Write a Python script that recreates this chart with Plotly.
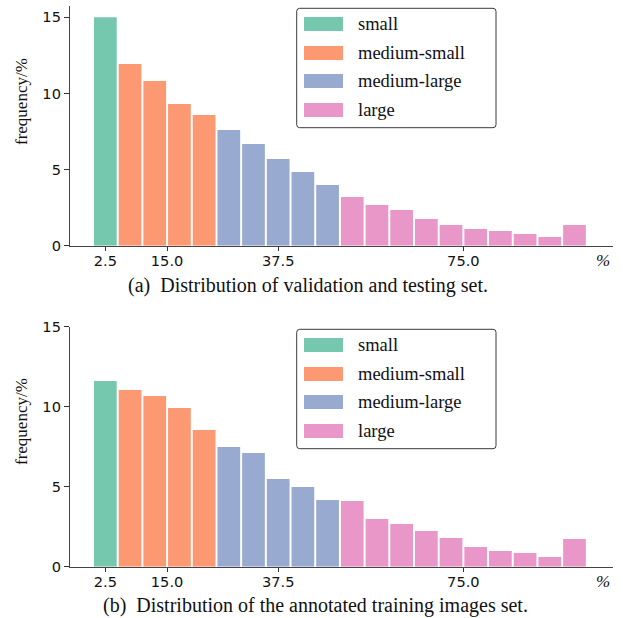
import plotly.graph_objects as go

W, H = 623, 618

# ---------------- data ----------------
bin_centers = [2.5, 7.5, 12.5, 17.5, 22.5, 27.5, 32.5, 37.5, 42.5, 47.5,
               52.5, 57.5, 62.5, 67.5, 72.5, 77.5, 82.5, 87.5, 92.5, 97.5]
freq_val_test = [15.0, 11.93, 10.81, 9.30, 8.58, 7.60, 6.68, 5.70, 4.84, 3.98,
                 3.20, 2.67, 2.34, 1.75, 1.36, 1.10, 0.96, 0.77, 0.57, 1.36]
freq_train = [11.6, 11.04, 10.67, 9.92, 8.54, 7.48, 7.11, 5.48, 4.98, 4.17,
              4.10, 2.98, 2.67, 2.23, 1.79, 1.23, 0.98, 0.86, 0.61, 1.73]
categories = ["small", "medium-small", "medium-large", "large"]
category_bins = [[0], [1, 2, 3, 4], [5, 6, 7, 8, 9],
                 [10, 11, 12, 13, 14, 15, 16, 17, 18, 19]]
x_tick_vals = [2.5, 15.0, 37.5, 75.0]
x_tick_text = ["2.5", "15.0", "37.5", "75.0"]
y_tick_vals = [0, 5, 10, 15]
captions = ["(a)&nbsp; Distribution of validation and testing set.",
            "(b)&nbsp; Distribution of the annotated training images set."]
y_title = "frequency/%"
x_unit = "<i>%</i>"

colors = ["rgb(117,200,174)", "rgb(252,152,114)", "rgb(152,170,208)", "rgb(233,150,201)"]

SERIF = "Liberation Serif, Times New Roman, serif"
SANS = "DejaVu Sans, sans-serif"


def px(x):
    return x / W


def py(y):
    return 1 - y / H


fig = go.Figure()
datasets = [freq_val_test, freq_train]
axes = [("x", "y"), ("x2", "y2")]
for d, data in enumerate(datasets):
    xa, ya = axes[d]
    for c, cat in enumerate(categories):
        idx = category_bins[c]
        fig.add_trace(go.Bar(
            x=[bin_centers[i] for i in idx],
            y=[data[i] for i in idx],
            width=4.6,
            marker=dict(color=colors[c], line=dict(width=0)),
            name=cat, showlegend=False,
            xaxis=xa, yaxis=ya,
        ))

axis_common = dict(showline=True, linecolor="#444", linewidth=1.3, mirror=False,
                   ticks="outside", tickcolor="#333", tickwidth=1.1,
                   showgrid=False, zeroline=False, automargin=False,
                   tickfont=dict(family=SANS, size=14.6, color="#111"))

x_dom = [px(70), px(613)]
fig.update_layout(
    template="none",
    width=W, height=H,
    margin=dict(l=0, r=0, t=0, b=0, pad=0, autoexpand=False),
    paper_bgcolor="white", plot_bgcolor="white",
    showlegend=False,
    xaxis=dict(domain=x_dom, range=[-4.66, 105.3], anchor="y", ticklabelstandoff=-2,
               tickvals=x_tick_vals, ticktext=x_tick_text, ticklen=4, **axis_common),
    yaxis=dict(domain=[py(245.7), py(5.8)], range=[0, 15.75], anchor="x",
               tickvals=y_tick_vals, ticklen=5, **axis_common),
    xaxis2=dict(domain=x_dom, range=[-4.66, 105.3], anchor="y2", ticklabelstandoff=-2,
                tickvals=x_tick_vals, ticktext=x_tick_text, ticklen=4, **axis_common),
    yaxis2=dict(domain=[py(566.7), py(326.7)], range=[0, 15], anchor="x2",
                tickvals=y_tick_vals, ticklen=5, **axis_common),
)

shapes = []
annotations = []
offsets = [0, 321]
ylabel_y = [102, 422]
unit_y = [260, 581.7]
caption_y = [285, 605]
caption_x = [307.5, 315.5]

for d in range(2):
    off = offsets[d]
    # legend box with rounded corners
    x0, x1 = 296.7, 496
    y0, y1 = 8.3 + off, 127.7 + off
    r = 3
    path = (f"M {px(x0 + r)},{py(y0)} L {px(x1 - r)},{py(y0)} Q {px(x1)},{py(y0)} {px(x1)},{py(y0 + r)} "
            f"L {px(x1)},{py(y1 - r)} Q {px(x1)},{py(y1)} {px(x1 - r)},{py(y1)} "
            f"L {px(x0 + r)},{py(y1)} Q {px(x0)},{py(y1)} {px(x0)},{py(y1 - r)} "
            f"L {px(x0)},{py(y0 + r)} Q {px(x0)},{py(y0)} {px(x0 + r)},{py(y0)} Z")
    shapes.append(dict(type="path", path=path, xref="paper", yref="paper",
                       line=dict(color="#3a3a3a", width=1), fillcolor="white", layer="above"))
    row_centers = [24, 53, 81, 110]
    for c, cat in enumerate(categories):
        yc = row_centers[c] + off
        shapes.append(dict(type="rect", xref="paper", yref="paper",
                           x0=px(304), x1=px(343), y0=py(yc + 7), y1=py(yc - 7),
                           fillcolor=colors[c], line=dict(width=0), layer="above"))
        annotations.append(dict(text=cat, xref="paper", yref="paper",
                                x=px(355.5), y=py(yc), xanchor="left", yanchor="middle",
                                showarrow=False,
                                font=dict(family=SERIF, size=18.5, color="#111")))
    # y axis title
    annotations.append(dict(text=y_title, xref="paper", yref="paper",
                            x=px(21), y=py(ylabel_y[d]), textangle=-90,
                            xanchor="center", yanchor="middle", showarrow=False,
                            font=dict(family=SERIF, size=17, color="#111")))
    # x unit
    annotations.append(dict(text=x_unit, xref="paper", yref="paper",
                            x=px(603), y=py(unit_y[d]), xanchor="center", yanchor="middle",
                            showarrow=False, font=dict(family=SERIF, size=17, color="#111")))
    # caption
    annotations.append(dict(text=captions[d], xref="paper", yref="paper",
                            x=px(caption_x[d]), y=py(caption_y[d]), xanchor="center",
                            yanchor="middle", showarrow=False,
                            font=dict(family=SERIF, size=20, color="#111")))

fig.update_layout(shapes=shapes, annotations=annotations)
fig.write_html("out.html", config={"displayModeBar": False},
               post_script="document.body.style.margin='0px';document.body.style.overflow='hidden';")
